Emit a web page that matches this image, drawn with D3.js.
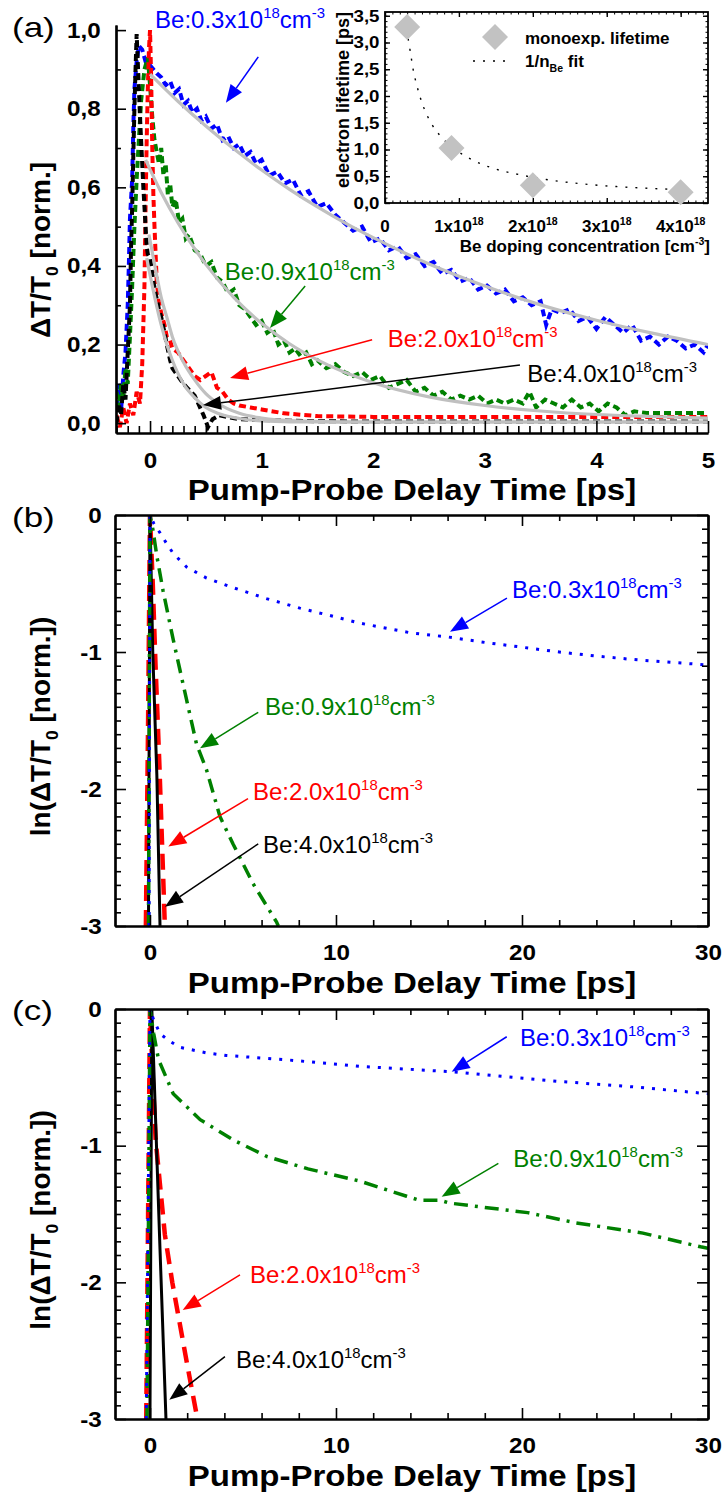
<!DOCTYPE html>
<html>
<head>
<meta charset="utf-8">
<script src="https://cdn.jsdelivr.net/npm/d3@7"></script>
<style>
  body { margin: 0; background: #fff; }
  svg { font-family: "Liberation Sans", Arial, Helvetica, sans-serif; }
</style>
</head>
<body>
<div id="chart"></div>
<script>
/* ---------- panel (a): normalized transient transmission, [delay ps, dT/T0] ---------- */
const blueA = [[-0.30,0.04],[-0.28,0.10],[-0.26,0.03],[-0.24,0.12],[-0.22,0.18],[-0.20,0.30],[-0.19,0.40],[-0.18,0.52],[-0.16,0.62],[-0.15,0.75],[-0.14,0.85],[-0.12,0.92],[-0.10,0.96],[-0.07,0.95],[-0.04,0.92],[0.00,0.91],[0.03,0.90],[0.06,0.89],[0.10,0.88],[0.14,0.86],[0.18,0.87],[0.22,0.84],[0.26,0.85],[0.30,0.81],[0.34,0.82],[0.38,0.79],[0.42,0.80],[0.46,0.77],[0.50,0.78],[0.55,0.75],[0.60,0.76],[0.65,0.72],[0.70,0.73],[0.75,0.70],[0.80,0.71],[0.85,0.68],[0.90,0.69],[0.95,0.66],[1.00,0.67],[1.07,0.63],[1.14,0.64],[1.21,0.61],[1.28,0.62],[1.35,0.58],[1.42,0.59],[1.50,0.55],[1.58,0.56],[1.66,0.53],[1.74,0.51],[1.82,0.49],[1.90,0.50],[1.98,0.46],[2.06,0.47],[2.14,0.44],[2.22,0.45],[2.30,0.42],[2.38,0.43],[2.46,0.40],[2.54,0.41],[2.62,0.38],[2.70,0.39],[2.78,0.36],[2.86,0.37],[2.94,0.34],[3.02,0.35],[3.10,0.33],[3.18,0.34],[3.26,0.31],[3.34,0.32],[3.42,0.30],[3.50,0.31],[3.55,0.25],[3.60,0.29],[3.68,0.28],[3.76,0.29],[3.84,0.26],[3.92,0.27],[4.00,0.24],[4.08,0.27],[4.16,0.25],[4.24,0.23],[4.32,0.25],[4.40,0.21],[4.48,0.22],[4.56,0.20],[4.64,0.22],[4.72,0.21],[4.80,0.19],[4.88,0.20],[4.96,0.18],[5.00,0.20]];
const greenA = [[-0.30,0.08],[-0.28,0.04],[-0.26,0.10],[-0.24,0.06],[-0.22,0.14],[-0.20,0.10],[-0.18,0.22],[-0.16,0.35],[-0.14,0.50],[-0.12,0.62],[-0.10,0.72],[-0.08,0.82],[-0.05,0.90],[-0.02,0.93],[0.00,0.86],[0.02,0.78],[0.04,0.72],[0.06,0.69],[0.08,0.66],[0.10,0.70],[0.12,0.63],[0.14,0.66],[0.16,0.58],[0.18,0.61],[0.20,0.55],[0.23,0.57],[0.26,0.51],[0.29,0.52],[0.32,0.47],[0.35,0.48],[0.40,0.44],[0.45,0.43],[0.50,0.40],[0.55,0.41],[0.60,0.37],[0.65,0.36],[0.70,0.33],[0.75,0.34],[0.80,0.30],[0.85,0.29],[0.90,0.27],[0.95,0.25],[1.00,0.26],[1.05,0.23],[1.10,0.24],[1.15,0.20],[1.20,0.21],[1.25,0.18],[1.30,0.19],[1.35,0.17],[1.40,0.18],[1.45,0.15],[1.50,0.16],[1.58,0.14],[1.66,0.15],[1.74,0.13],[1.82,0.12],[1.90,0.13],[1.98,0.11],[2.06,0.12],[2.14,0.09],[2.22,0.10],[2.30,0.11],[2.38,0.08],[2.46,0.09],[2.54,0.07],[2.62,0.08],[2.70,0.06],[2.78,0.07],[2.86,0.06],[2.94,0.07],[3.02,0.05],[3.10,0.06],[3.18,0.05],[3.26,0.06],[3.34,0.05],[3.40,0.08],[3.46,0.04],[3.54,0.06],[3.62,0.05],[3.70,0.04],[3.78,0.06],[3.86,0.04],[3.94,0.05],[4.02,0.03],[4.10,0.05],[4.18,0.04],[4.26,0.02],[4.34,0.03],[4.45,0.026],[4.60,0.026],[4.80,0.026],[5.00,0.026]];
const redA = [[-0.30,0.02],[-0.27,-0.01],[-0.24,0.04],[-0.21,0.00],[-0.18,0.05],[-0.15,0.02],[-0.12,0.08],[-0.09,0.05],[-0.07,0.15],[-0.05,0.35],[-0.04,0.55],[-0.03,0.72],[-0.02,0.85],[-0.01,0.95],[0.00,1.00],[0.01,0.88],[0.02,0.70],[0.03,0.58],[0.04,0.50],[0.06,0.36],[0.08,0.31],[0.10,0.28],[0.13,0.25],[0.15,0.22],[0.18,0.21],[0.20,0.19],[0.25,0.18],[0.30,0.16],[0.35,0.14],[0.40,0.12],[0.45,0.11],[0.50,0.12],[0.55,0.13],[0.60,0.09],[0.65,0.08],[0.70,0.06],[0.75,0.05],[0.80,0.045],[0.90,0.04],[1.00,0.035],[1.20,0.025],[1.50,0.018],[2.00,0.016],[3.00,0.016],[4.00,0.016],[5.00,0.016]];
const blackA = [[-0.30,0.00],[-0.28,0.05],[-0.26,0.02],[-0.24,0.10],[-0.22,0.06],[-0.20,0.18],[-0.18,0.30],[-0.17,0.45],[-0.16,0.55],[-0.15,0.68],[-0.14,0.80],[-0.13,0.90],[-0.12,0.99],[-0.11,0.92],[-0.10,0.85],[-0.09,0.78],[-0.08,0.72],[-0.07,0.66],[-0.06,0.60],[-0.05,0.55],[-0.04,0.50],[-0.03,0.45],[-0.02,0.43],[0.00,0.42],[0.03,0.36],[0.05,0.33],[0.08,0.29],[0.10,0.27],[0.13,0.23],[0.15,0.20],[0.18,0.16],[0.20,0.14],[0.25,0.12],[0.30,0.10],[0.35,0.085],[0.40,0.07],[0.44,0.045],[0.48,0.02],[0.52,-0.01],[0.56,0.01],[0.62,0.02],[0.70,0.015],[0.80,0.01],[1.00,0.008],[1.50,0.005],[2.00,0.004],[5.00,0.004]];

/* mono-exponential fits (grey) */
const blueFitA = [[0.00,0.888],[0.25,0.819],[0.50,0.756],[0.75,0.698],[1.00,0.644],[1.25,0.595],[1.50,0.550],[1.75,0.509],[2.00,0.472],[2.50,0.405],[3.00,0.349],[3.50,0.301],[4.00,0.262],[4.50,0.229],[5.00,0.200]];
const greenFitA = [[-0.04,0.670],[0.10,0.587],[0.25,0.510],[0.50,0.404],[0.75,0.320],[1.00,0.254],[1.25,0.202],[1.50,0.161],[2.00,0.103],[2.50,0.067],[3.00,0.045],[3.50,0.031],[4.00,0.022],[4.50,0.017],[5.00,0.013]];
const redFitA = [[-0.01,0.48],[0.05,0.39],[0.10,0.32],[0.15,0.27],[0.20,0.22],[0.30,0.155],[0.40,0.11],[0.50,0.075],[0.60,0.052],[0.80,0.025],[1.00,0.013],[1.30,0.006],[2.00,0.003],[5.00,0.003]];
const blackFitA = [[-0.03,0.42],[0.05,0.31],[0.10,0.25],[0.15,0.20],[0.20,0.16],[0.30,0.10],[0.40,0.065],[0.50,0.04],[0.60,0.026],[0.80,0.012],[1.00,0.006],[1.50,0.003],[5.00,0.003]];

/* inset: lifetime vs Be doping (units of 1e18 cm^-3, ps) */
const nBe = [0.3, 0.9, 2.0, 4.0];
const lifetime = [3.29, 1.03, 0.33, 0.20];
const fitInset = [[0.29,3.25],[0.34,2.85],[0.38,2.50],[0.43,2.20],[0.52,1.80],[0.63,1.48],[0.77,1.22],[0.97,0.98],[1.19,0.80],[1.46,0.65],[1.82,0.53],[2.18,0.44],[2.81,0.34],[3.49,0.28],[3.99,0.25]];

/* ---------- panel (b): ln(dT/T0), [delay ps, value] ---------- */
const blueB = [[-0.05,-3],[0,0],[0.2,-0.06],[0.54,-0.13],[0.9,-0.21],[1.25,-0.28],[1.97,-0.38],[3.04,-0.46],[4.46,-0.53],[6.26,-0.61],[8.06,-0.68],[9.86,-0.74],[11.3,-0.79],[14,-0.86],[16,-0.89],[18,-0.93],[20,-0.965],[22,-1.0],[24,-1.03],[26,-1.055],[28,-1.075],[30,-1.095]];
const greenB = [[-0.08,-3],[-0.04,-1.5],[0,0],[0.15,-0.1],[0.37,-0.3],[0.7,-0.55],[1.25,-0.91],[1.97,-1.35],[2.5,-1.67],[3.04,-1.86],[3.76,-2.2],[4.46,-2.4],[5.54,-2.69],[6.8,-2.97],[6.9,-3.0]];
const redB = [[-0.22,-3],[-0.1,-1.5],[0,0],[0.15,-0.5],[0.3,-1.1],[0.5,-1.8],[0.65,-2.4],[0.8,-3]];
const blackB = [[-0.08,-3],[0,0],[0.15,-1.0],[0.37,-1.9],[0.54,-3]];

/* ---------- panel (c): ln(dT/T0), [delay ps, value] ---------- */
const blueC = [[-0.2,-3],[-0.1,-1.5],[0,0],[0.2,-0.08],[0.54,-0.18],[1.0,-0.23],[1.6,-0.28],[3,-0.32],[4.1,-0.34],[7.2,-0.37],[11.3,-0.42],[16.3,-0.46],[22,-0.53],[26,-0.57],[30,-0.62]];
const greenC = [[-0.16,-3],[-0.05,-1.0],[0,0],[0.2,-0.18],[0.46,-0.37],[1.25,-0.62],[2.7,-0.81],[4.5,-0.96],[6.3,-1.08],[8.5,-1.17],[11.3,-1.26],[13.8,-1.37],[14.5,-1.40],[15.6,-1.40],[16.1,-1.42],[20.3,-1.49],[22.9,-1.565],[26.5,-1.64],[29.6,-1.74],[30,-1.75]];
const redC = [[-0.2,-3],[-0.1,-1.5],[0,0],[0.15,-0.5],[0.3,-0.95],[0.55,-1.3],[0.8,-1.65],[1.2,-2.0],[1.6,-2.3],[2.0,-2.6],[2.55,-3.0]];
const blackC = [[0,-3],[0.1,0],[0.3,-0.8],[0.54,-1.76],[0.86,-3]];

/* tick labels */
const ticksXA = [0, 1, 2, 3, 4, 5];
const ticksYA = [0, 0.2, 0.4, 0.6, 0.8, 1.0];
const ticksXI = [0, 1, 2, 3, 4];
const ticksYI = [0, 0.5, 1, 1.5, 2, 2.5, 3, 3.5];
const ticksXLn = [0, 10, 20, 30];
const ticksYLn = [-3, -2, -1, 0];

/* annotation anchors in data units: text baseline start, arrow tail, arrow tip */
const notesA = [
  { dop: "0.3", col: "blue",  text: [0.045, 1.006], from: [0.97, 0.932], to: [0.68, 0.815] },
  { dop: "0.9", col: "green", text: [0.67, 0.364],  from: [1.39, 0.349], to: [1.075, 0.242] },
  { dop: "2.0", col: "red",   text: [2.13, 0.194],  from: [1.99, 0.212], to: [0.717, 0.115] },
  { dop: "4.0", col: "black", text: [3.38, 0.105],  from: [3.315, 0.148], to: [0.475, 0.046] }
];
const notesB = [
  { dop: "0.3", col: "blue",  text: [19.46, -0.606], from: [19.19, -0.606], to: [16.13, -0.852] },
  { dop: "0.9", col: "green", text: [6.18, -1.46],   from: [5.82, -1.44],   to: [2.69, -1.703] },
  { dop: "2.0", col: "red",   text: [5.54, -2.08],   from: [5.27, -2.07],   to: [0.985, -2.42] },
  { dop: "4.0", col: "black", text: [6.08, -2.467],  from: [5.82, -2.40],   to: [0.806, -2.859] }
];
const notesC = [
  { dop: "0.3", col: "blue",  text: [19.89, -0.27],  from: [19.18, -0.203], to: [16.22, -0.459] },
  { dop: "0.9", col: "green", text: [19.53, -1.156], from: [18.73, -1.129], to: [15.68, -1.373] },
  { dop: "2.0", col: "red",   text: [5.38, -2.004],  from: [4.84, -1.946],  to: [1.76, -2.202] },
  { dop: "4.0", col: "black", text: [4.62, -2.626],  from: [4.03, -2.543],  to: [1.04, -2.86] }
];

const colors = { blue: "#0000ff", green: "#008000", red: "#ff0000", black: "#000000" };
const fitGrey = "#c0c0c0";

const w = 727, h = 1499;
const svg = d3.select("#chart").append("svg").attr("width", w).attr("height", h);

const comma = d => d3.format(".1f")(d).replace(".", ",");
const stretch = "scale(1.1,1)";

/* text with super/subscripts: parts = [[text, "sup"|"sub"|null], ...] */
function richText(g, x, y, parts, size, attrs) {
  const t = g.append("text").attr("x", x).attr("y", y).attr("font-size", size);
  Object.entries(attrs || {}).forEach(([k, v]) => t.attr(k, v));
  let shift = 0;
  parts.forEach(([s, kind]) => {
    const target = kind === "sup" ? -0.42 * size : kind === "sub" ? 0.28 * size : 0;
    t.append("tspan")
      .attr("dy", target - shift)
      .attr("font-size", kind ? size * 0.62 : size)
      .text(s);
    shift = target;
  });
  return t;
}

/* arrow with filled head, coordinates via scales */
function arrow(g, xs, ys, from, to, col) {
  const x1 = xs(from[0]), y1 = ys(from[1]), x2 = xs(to[0]), y2 = ys(to[1]);
  const len = Math.hypot(x2 - x1, y2 - y1), ux = (x2 - x1) / len, uy = (y2 - y1) / len;
  const hl = 18, hw = 7;
  const bx = x2 - ux * hl, by = y2 - uy * hl;
  g.append("line").attr("x1", x1).attr("y1", y1).attr("x2", bx).attr("y2", by)
    .attr("stroke", col).attr("stroke-width", 1.5);
  g.append("path")
    .attr("d", `M${x2},${y2}L${bx - uy * hw},${by + ux * hw}L${bx + uy * hw},${by - ux * hw}Z`)
    .attr("fill", col);
}

function notes(g, xs, ys, list, size) {
  list.forEach(n => {
    arrow(g, xs, ys, n.from, n.to, colors[n.col]);
    richText(g, xs(n.text[0]), ys(n.text[1]),
      [["Be:" + n.dop + "x10", null], ["18", "sup"], ["cm", null], ["-3", "sup"]],
      size, { fill: colors[n.col] });
  });
}

function styleAxis(sel, size) {
  sel.select(".domain").attr("stroke-width", 2.2);
  sel.selectAll(".tick line").attr("stroke-width", 1.6);
  sel.selectAll("text").attr("font-size", size).attr("font-weight", "bold")
    .attr("fill", "#000").attr("font-family", null).attr("transform", stretch);
}

const lineOf = (xs, ys) => d3.line().x(d => xs(d[0])).y(d => ys(d[1]));

/* ====================== panel (a) ====================== */
const xA = d3.scaleLinear().domain([-0.305, 5]).range([116, 708]);
const yA = d3.scaleLinear().domain([-0.025, 1.013]).range([433, 25]);

svg.append("clipPath").attr("id", "clipA").append("rect")
  .attr("x", 116).attr("y", 20).attr("width", 592).attr("height", 413);

const gA = svg.append("g");
const plotA = gA.append("g").attr("clip-path", "url(#clipA)");
const lineA = lineOf(xA, yA);

[[blueA, "blue"], [greenA, "green"], [redA, "red"], [blackA, "black"]].forEach(([data, c]) => {
  plotA.append("path").datum(data).attr("d", lineA).attr("fill", "none")
    .attr("stroke", colors[c]).attr("stroke-width", 4).attr("stroke-dasharray", "7,4");
});
const fitLineA = lineOf(xA, yA).curve(d3.curveMonotoneX);
[blueFitA, greenFitA, redFitA, blackFitA].forEach(data => {
  plotA.append("path").datum(data).attr("d", fitLineA).attr("fill", "none")
    .attr("stroke", fitGrey).attr("stroke-width", 3.2);
});

const minorXA = d3.range(-3, 51).map(i => i / 10).filter(v => Math.abs(v - Math.round(v)) > 1e-6);
const minorYA = [0.1, 0.3, 0.5, 0.7, 0.9];
gA.append("g").attr("transform", "translate(0,433)")
  .call(d3.axisBottom(xA).tickValues(minorXA).tickSize(-7).tickSizeOuter(0).tickFormat(""))
  .call(styleAxis, 22);
gA.append("g").attr("transform", "translate(0,433)")
  .call(d3.axisBottom(xA).tickValues(ticksXA).tickSize(-12).tickSizeOuter(0).tickPadding(19)
    .tickFormat(d => String(d)))
  .call(styleAxis, 22);
gA.append("g").attr("transform", "translate(116,0)")
  .call(d3.axisLeft(yA).tickValues(minorYA).tickSize(-5).tickSizeOuter(0).tickFormat(""))
  .call(styleAxis, 22);
gA.append("g").attr("transform", "translate(116,0)")
  .call(d3.axisLeft(yA).tickValues(ticksYA).tickSize(-10).tickSizeOuter(0)
    .tickPadding(14).tickFormat(comma))
  .call(styleAxis, 22);

notes(gA, xA, yA, notesA, 24);

/* ---------- inset ---------- */
const xI = d3.scaleLinear().domain([0, 4.37]).range([385, 708]);
const yI = d3.scaleLinear().domain([0, 3.57]).range([203, 12]);
const gI = svg.append("g");
gI.append("rect").attr("x", 385).attr("y", 12).attr("width", 323).attr("height", 191)
  .attr("fill", "none").attr("stroke", "#000").attr("stroke-width", 1.8);

const minorXI = d3.range(0, 44).map(i => i / 10);
const minorYI = d3.range(0, 36).map(i => i / 10);
const insetAxes = [
  [d3.axisBottom(xI), "translate(0,203)", minorXI, ticksXI],
  [d3.axisTop(xI), "translate(0,12)", minorXI, ticksXI],
  [d3.axisLeft(yI), "translate(385,0)", minorYI, ticksYI],
  [d3.axisRight(yI), "translate(708,0)", minorYI, ticksYI]
];
insetAxes.forEach(([ax, tr, minor, major]) => {
  gI.append("g").attr("transform", tr)
    .call(ax.tickValues(minor).tickSize(-2.5).tickSizeOuter(0).tickFormat(""))
    .call(s => { s.select(".domain").remove(); s.selectAll("line").attr("stroke-width", 1); });
  gI.append("g").attr("transform", tr)
    .call(ax.tickValues(major).tickSize(-5).tickSizeOuter(0).tickFormat(""))
    .call(s => { s.select(".domain").remove(); s.selectAll("line").attr("stroke-width", 1.4); });
});
gI.append("g").attr("transform", "translate(385,0)")
  .call(d3.axisLeft(yI).tickValues(ticksYI).tickSize(0).tickPadding(5).tickFormat(comma))
  .call(s => {
    s.select(".domain").remove();
    s.selectAll("text").attr("font-size", 17).attr("font-weight", "bold").attr("font-family", null)
      .attr("transform", stretch);
  });
ticksXI.forEach(v => {
  const parts = v === 0 ? [["0", null]] : [[v + "x10", null], ["18", "sup"]];
  richText(gI, xI(v), 232, parts, 17, { "font-weight": "bold", "text-anchor": "middle" });
});
richText(gI, 710, 252, [["Be doping concentration [cm", null], ["-3", "sup"], ["]", null]], 17,
  { "font-weight": "bold", "text-anchor": "end" });
gI.append("text").attr("transform", "translate(349,100) rotate(-90)")
  .attr("text-anchor", "middle").attr("font-size", 18).attr("font-weight", "bold")
  .text("electron lifetime [ps]");

gI.append("path").datum(fitInset).attr("d", lineOf(xI, yI).curve(d3.curveMonotoneX))
  .attr("fill", "none").attr("stroke", "#000").attr("stroke-width", 1.4).attr("stroke-dasharray", "2,8");
const diamond = r => `M0,${-r}L${r},0L0,${r}L${-r},0Z`;
gI.selectAll(".dia").data(nBe).enter().append("path")
  .attr("class", "dia")
  .attr("transform", (d, i) => `translate(${xI(d)},${yI(lifetime[i])})`)
  .attr("d", diamond(13)).attr("fill", "#c2c2c2");

/* inset legend */
gI.append("path").attr("transform", "translate(495,37)").attr("d", diamond(13)).attr("fill", "#c2c2c2");
gI.append("text").attr("x", 525).attr("y", 44).attr("font-size", 17).attr("font-weight", "bold")
  .text("monoexp. lifetime");
gI.append("line").attr("x1", 473).attr("x2", 513).attr("y1", 61).attr("y2", 61)
  .attr("stroke", "#000").attr("stroke-width", 1.4).attr("stroke-dasharray", "2,8");
richText(gI, 525, 67, [["1/n", null], ["Be", "sub"], [" fit", null]], 17, { "font-weight": "bold" });

/* ====================== panels (b) and (c) ====================== */
const seriesStyle = {
  red:   { width: 4.5, dash: "16,9" },
  black: { width: 3,   dash: null },
  green: { width: 3.5, dash: "14,7,3,7" },
  blue:  { width: 3,   dash: "3,8" }
};

function lnPanel(id, top, bottom, series, list) {
  const xs = d3.scaleLinear().domain([-1.88, 30]).range([115, 708]);
  const ys = d3.scaleLinear().domain([-3, 0]).range([bottom, top]);
  const g = svg.append("g");

  svg.append("clipPath").attr("id", id).append("rect")
    .attr("x", 115).attr("y", top).attr("width", 593).attr("height", bottom - top);
  const plot = g.append("g").attr("clip-path", `url(#${id})`);
  const line = lineOf(xs, ys);
  ["red", "black", "green", "blue"].forEach(c => {
    plot.append("path").datum(series[c]).attr("d", line).attr("fill", "none")
      .attr("stroke", colors[c]).attr("stroke-width", seriesStyle[c].width)
      .attr("stroke-dasharray", seriesStyle[c].dash);
  });

  const minorX = d3.range(2, 30, 2).filter(v => v % 10 !== 0);
  const minorY = d3.range(-29, 0).map(i => i / 10).filter(v => Math.abs(v - Math.round(v)) > 1e-6);
  const sides = [
    [d3.axisBottom, `translate(0,${bottom})`, xs, minorX, ticksXLn, true],
    [d3.axisTop, `translate(0,${top})`, xs, minorX, ticksXLn, false],
    [d3.axisLeft, "translate(115,0)", ys, minorY, ticksYLn, true],
    [d3.axisRight, "translate(708,0)", ys, minorY, ticksYLn, false]
  ];
  sides.forEach(([mk, tr, sc, minor, major, labels]) => {
    g.append("g").attr("transform", tr)
      .call(mk(sc).tickValues(minor).tickSize(-6).tickSizeOuter(0).tickFormat(""))
      .call(styleAxis, 22);
    const ax = mk(sc).tickValues(major).tickSize(-11).tickSizeOuter(0)
      .tickFormat(labels ? d => String(d) : "");
    ax.tickPadding(mk === d3.axisBottom ? 18 : 12);
    g.append("g").attr("transform", tr).call(ax).call(styleAxis, 22);
  });

  notes(g, xs, ys, list, 24);

  /* axis titles */
  g.append("text").attr("x", 0).attr("y", 0)
    .attr("transform", `translate(412,${bottom + 67}) ${stretch}`)
    .attr("text-anchor", "middle").attr("font-size", 30).attr("font-weight", "bold")
    .text("Pump-Probe Delay Time [ps]");
  const yt = g.append("g").attr("transform", `translate(50,${(top + bottom) / 2 + 6}) rotate(-90)`);
  richText(yt, 0, 0, [["ln(\u0394T/T", null], ["0", "sub"], [" [norm.])", null]], 28,
    { "font-weight": "bold", "text-anchor": "middle" });
}

lnPanel("clipB", 515, 926, { blue: blueB, green: greenB, red: redB, black: blackB }, notesB);
lnPanel("clipC", 1009, 1419, { blue: blueC, green: greenC, red: redC, black: blackC }, notesC);

/* titles for panel (a) */
svg.append("text").attr("transform", `translate(412,500) ${stretch}`)
  .attr("text-anchor", "middle").attr("font-size", 30).attr("font-weight", "bold")
  .text("Pump-Probe Delay Time [ps]");
const ytA = svg.append("g").attr("transform", "translate(50,250) rotate(-90)");
richText(ytA, 0, 0, [["\u0394T/T", null], ["0", "sub"], [" [norm.]", null]], 28,
  { "font-weight": "bold", "text-anchor": "middle" });

/* panel letters */
[["(a)", 37], ["(b)", 527], ["(c)", 1020]].forEach(([s, y]) => {
  svg.append("text").attr("transform", `translate(12,${y}) scale(1.25,1)`)
    .attr("font-size", 28).text(s);
});
</script>
</body>
</html>
